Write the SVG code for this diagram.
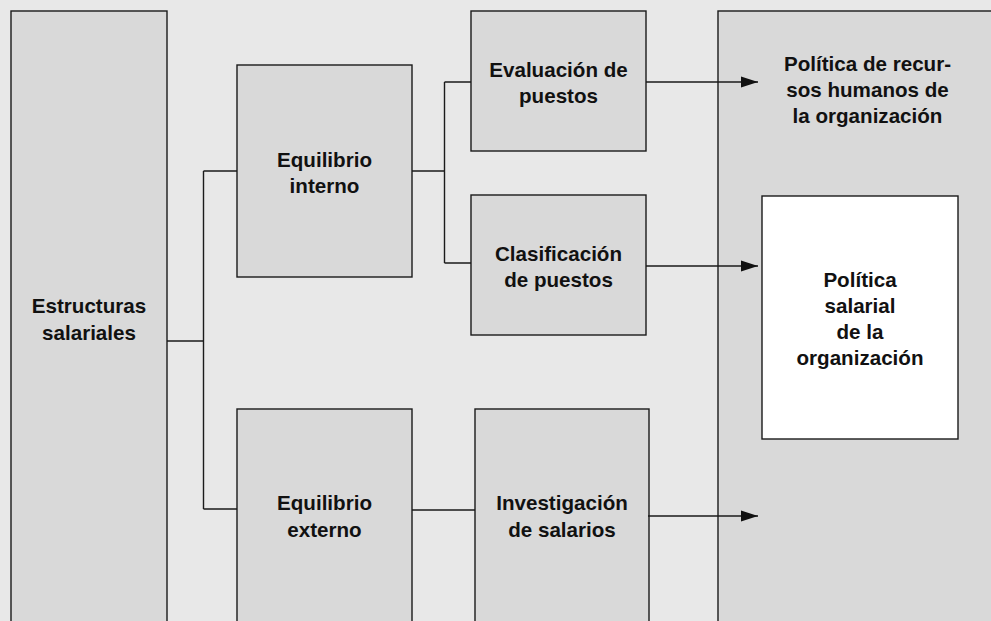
<svg xmlns="http://www.w3.org/2000/svg" width="991" height="621" viewBox="0 0 991 621">
<style>
.box{fill:#d9d9d9;stroke:#1a1a1a;stroke-width:1.4}
.wbox{fill:#ffffff;stroke:#1a1a1a;stroke-width:1.4}
.t{font-family:"Liberation Sans",Arial,sans-serif;font-weight:bold;font-size:20.6px;fill:#111;text-anchor:middle}
.ln{fill:none;stroke:#1a1a1a;stroke-width:1.4}
</style>
<defs>
<marker id="ah" markerUnits="userSpaceOnUse" markerWidth="18" markerHeight="12" refX="17" refY="6" orient="auto">
<path d="M0,0.5 L17,6 L0,11.5 Z" fill="#111"/>
</marker>
</defs>
<rect x="0" y="0" width="991" height="621" fill="#e8e8e8"/>
<g id="estructuras">
<rect class="box" x="11" y="11" width="156" height="640"/>
<text class="t" x="89" y="313">Estructuras</text>
<text class="t" x="89" y="340">salariales</text>
</g>
<g id="eq-interno">
<rect class="box" x="237" y="65" width="175" height="212"/>
<text class="t" x="324.5" y="167">Equilibrio</text>
<text class="t" x="324.5" y="193">interno</text>
</g>
<g id="eq-externo">
<rect class="box" x="237" y="409" width="175" height="240"/>
<text class="t" x="324.5" y="510">Equilibrio</text>
<text class="t" x="324.5" y="537">externo</text>
</g>
<g id="evaluacion">
<rect class="box" x="471" y="11" width="175" height="140"/>
<text class="t" x="558.5" y="77">Evaluación de</text>
<text class="t" x="558.5" y="103">puestos</text>
</g>
<g id="clasificacion">
<rect class="box" x="471" y="195" width="175" height="140"/>
<text class="t" x="558.5" y="261">Clasificación</text>
<text class="t" x="558.5" y="287">de puestos</text>
</g>
<g id="investigacion">
<rect class="box" x="475" y="409" width="174" height="240"/>
<text class="t" x="562" y="510">Investigación</text>
<text class="t" x="562" y="537">de salarios</text>
</g>
<g id="politica-rh">
<rect class="box" x="718" y="11" width="300" height="640"/>
<text class="t" x="867.5" y="71">Política de recur-</text>
<text class="t" x="867.5" y="97">sos humanos de</text>
<text class="t" x="867.5" y="123">la organización</text>
</g>
<g id="politica-salarial">
<rect class="wbox" x="762" y="196" width="196" height="243"/>
<text class="t" x="860" y="287">Política</text>
<text class="t" x="860" y="313">salarial</text>
<text class="t" x="860" y="339">de la</text>
<text class="t" x="860" y="365">organización</text>
</g>
<g id="connectors">
<path class="ln" d="M167,341 H203.5 M203.5,171 V509 M203.5,171 H237 M203.5,509 H237"/>
<path class="ln" d="M412,171 H444.5 M444.5,82 V263 M444.5,82 H471 M444.5,263 H471"/>
<path class="ln" d="M412,510 H475"/>
<line class="ln" x1="646" y1="82" x2="758" y2="82" marker-end="url(#ah)"/>
<line class="ln" x1="646" y1="266" x2="758" y2="266" marker-end="url(#ah)"/>
<line class="ln" x1="648" y1="516" x2="758" y2="516" marker-end="url(#ah)"/>
</g>
</svg>
